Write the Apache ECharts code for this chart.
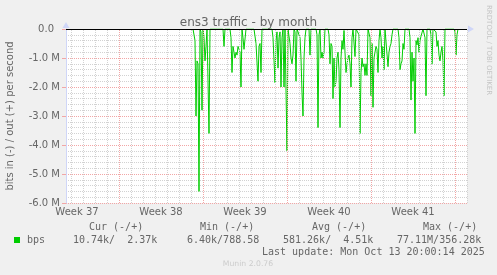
<!DOCTYPE html>
<html><head><meta charset="utf-8">
<script src="https://cdn.jsdelivr.net/npm/echarts@6/dist/echarts.min.js"></script>
<style>html,body{margin:0;padding:0;background:#f0f0f0}#c{width:497px;height:275px}</style>
</head><body><div id="c"></div>
<script>
// hours since Mon Sep 8 2025 00:00 (start of Week 37)
const hours = [316,320,322,324,326,328,330,332,334,336,338,340,342,344,346,348,350,
376,378,380,390,392,394,396,398,400,402,404,406,408,410,412,414,416,418,420,422,
438,442,444,446,448,450,452,454,474,476,480,482,484,486,488,490,492,494,496,498,500,502,504,506,508,
510,512,514,516,518,520,522,524,528,530,532,534,536,538,540,542,548,550,552,562,564,566,568,570,572,574,576,578,580,
586,588,590,592,594,596,598,600,602,604,606,608,610,612,614,616,618,620,622,624,626,628,630,632,634,636,638,640,642,
646,648,650,652,654,656,658,660,662,664,666,668,670,672,674,676,678,680,682,684,686,688,690,692,694,696,698,700,
704,706,708,710,712,714,716,726,728,730,732,734,736,738,740,748,750,752,754,756,758,760,762,764,766,768,770,772,774,776,
780,782,784,790,792,794,796,800,802,804,806,808,810,812,814,816,818,820,838,840,842,844,846];
// bits in per second (negative, in millions)
const inValues = [0,-0.4,-3.0,-1.1,-1.2,-5.6,0,-0.1,-2.8,0,-0.3,-1.1,-0.6,0,0,-3.6,0,
0,-0.6,0,0,-0.3,-1.5,-0.6,-0.8,-1.0,-0.8,-0.9,-0.6,-0.7,-0.8,-2.0,0,-0.3,-0.7,-0.7,0,
0,-0.5,-0.5,-1.8,-0.6,-0.5,-1.5,0,0,-0.3,-1.85,-0.4,-0.1,-1.35,-0.3,-0.1,-2.0,-0.3,0,-2.0,0,0,-4.2,0,0,
-0.5,-1.0,-1.2,-0.9,0,-0.1,-1.8,0,0,-0.3,-1.0,-2.2,-3.0,-1.0,-0.3,0,0,-0.9,0,0,-0.2,-3.4,-0.2,0,-1.0,-0.8,-1.0,-0.8,0,
0,-0.2,-1.2,-0.5,-0.6,-2.4,-1.0,-2.0,-1.8,-1.0,-0.8,-1.4,-3.4,-1.0,-0.4,-0.7,-0.05,-0.8,-1.5,-1.2,-1.0,-0.9,-1.2,-2.0,-0.3,0,0,-0.95,0,
0,-0.2,-3.6,-1.5,-1.0,-1.3,-1.2,-1.6,-1.2,-1.6,0,0,-0.3,-2.3,-0.5,-2.7,-1.0,-0.8,-0.6,-0.7,-1.5,-0.4,0,-0.3,-1.0,-0.6,-1.4,0,
0,-1.3,-0.8,-0.6,-0.5,-0.2,0,0,-0.3,-1.4,-1.2,-1.1,-0.5,-0.7,0,0,-0.3,-2.45,-0.8,-1.8,-1.0,-3.6,-0.4,-0.55,-0.3,-0.8,-0.4,-0.25,-0.2,0,
-0.3,-2.3,0,0,-0.2,-1.2,0,0,-0.1,-0.6,-0.4,-0.9,-1.1,-0.8,-0.6,-1.1,-2.3,0,0,-0.1,-0.9,-0.2,0];
const weekLabels = ['Week 37','Week 38','Week 39','Week 40','Week 41'];
const weekLabelHours = [84, 252, 420, 588, 756];   // mid-week
const dayLineHours = [];  for (let h = 72; h <= 864; h += 24) dayLineHours.push(h);
const weekLineHours = [168, 336, 504, 672, 840];
const yTickValues = [-6,-5,-4,-3,-2,-1,0];
const yTickLabels = ['-6.0 M','-5.0 M','-4.0 M','-3.0 M','-2.0 M','-1.0 M','0.0'];
const legendRow = {name:'bps', cur:'10.74k/  2.37k', min:'6.40k/788.58', avg:'581.26k/  4.51k', max:'77.11M/356.28k'};
const lastUpdate = 'Last update: Mon Oct 13 20:00:14 2025';

const FONT = 'DejaVu Sans';
const MONO = 'DejaVu Sans Mono';
const TXT = '#666666';
const seriesData = hours.map((h, i) => [h, inValues[i]]);

const chart = echarts.init(document.getElementById('c'), null, {renderer: 'canvas'});
function monoText(x, y, text) {
  return {type: 'text', x: x, y: y, style: {text: text, fill: TXT, font: '10px "' + MONO + '"', textAlign: 'left', textVerticalAlign: 'middle'}};
}
const gridLineStyle = (c) => ({color: c, width: 1, type: [1, 1]});
chart.setOption({
  backgroundColor: '#f0f0f0',
  animation: false,
  title: {text: 'ens3 traffic - by month', left: 'center', top: 12,
    textStyle: {fontFamily: FONT, fontSize: 12, fontWeight: 'normal', color: TXT}},
  grid: {left: 66, right: 30, top: 29, bottom: 72, show: true, backgroundColor: '#ffffff', borderWidth: 0},
  xAxis: [{
    type: 'value', min: 62, max: 864, interval: 2, position: 'bottom', z: 2,
    axisLine: {show: true, lineStyle: {color: '#CFD6F8', width: 1}, symbol: ['none', 'triangle'], symbolSize: [7, 6], symbolOffset: [0, 4]},
    axisTick: {show: false},
    axisLabel: {show: true, margin: 4, fontFamily: FONT, fontSize: 10, color: TXT,
      formatter: v => { const k = weekLabelHours.indexOf(Math.round(v)); return k >= 0 ? weekLabels[k] : ''; }},
    splitLine: {show: false}
  }],
  yAxis: [
    {type: 'value', min: -6, max: 0, interval: 1, position: 'left', z: 1,
      axisLine: {show: true, lineStyle: {color: '#CFD6F8', width: 1}, symbol: ['none', 'triangle'], symbolSize: [7, 6], symbolOffset: [0, 4]},
      axisTick: {show: true, length: 4, lineStyle: {color: '#f2a6a6'}},
      axisLabel: {show: true, margin: 6, fontFamily: FONT, fontSize: 10, color: TXT,
        formatter: v => { const i = yTickValues.indexOf(Math.round(v)); if (i < 0) return ''; return v === 0 ? '{z|' + yTickLabels[i] + '}' : yTickLabels[i]; },
        rich: {z: {fontFamily: FONT, fontSize: 10, color: TXT, padding: [0, 6, 0, 0]}}},
      splitLine: {show: true, lineStyle: gridLineStyle('#f2a6a6')}},
    {type: 'value', min: -6, max: 0, interval: 0.2, z: 0,
      axisLine: {show: false}, axisTick: {show: false}, axisLabel: {show: false},
      splitLine: {show: true, lineStyle: gridLineStyle('#d2d2d2')}}
  ],
  series: [
    {type: 'line', name: 'daygrid', data: [], z: 1, silent: true,
      markLine: {silent: true, symbol: ['none', 'none'], label: {show: false}, animation: false,
        lineStyle: gridLineStyle('#d2d2d2'), data: dayLineHours.map(h => ({xAxis: h}))}},
    {type: 'line', name: 'weekgrid', data: [], z: 1, silent: true,
      markLine: {silent: true, symbol: ['none', 'none'], label: {show: false}, animation: false,
        lineStyle: gridLineStyle('#f2a6a6'), data: weekLineHours.map(h => ({xAxis: h}))}},
    {type: 'line', name: 'bps', data: seriesData,
      showSymbol: false, symbol: 'none', z: 3,
      lineStyle: {color: '#00cc00', width: 1},
      markLine: {silent: true, symbol: ['none', 'none'], label: {show: false}, animation: false,
        lineStyle: {color: '#000000', width: 1, type: 'solid'}, data: [{yAxis: 0}]}}
  ],
  graphic: [
    {type: 'text', x: 10, y: 116, rotation: Math.PI / 2,
      style: {text: 'bits in (-) / out (+) per second', fill: TXT, font: '10px "' + FONT + '"', textAlign: 'center', textVerticalAlign: 'middle'}},
    {type: 'text', x: 489, y: 5, rotation: -Math.PI / 2,
      style: {text: 'RRDTOOL / TOBI OETIKER', fill: '#c4c4c4', font: '7px "' + FONT + '"', textAlign: 'left', textVerticalAlign: 'middle'}},
    {type: 'rect', shape: {x: 14, y: 237, width: 6, height: 6}, style: {fill: '#00cc00'}},
    monoText(89, 227.5, 'Cur (-/+)'),
    monoText(200, 227.5, 'Min (-/+)'),
    monoText(312, 227.5, 'Avg (-/+)'),
    monoText(423, 227.5, 'Max (-/+)'),
    monoText(27, 240, legendRow.name),
    monoText(73, 240, legendRow.cur),
    monoText(187, 240, legendRow.min),
    monoText(283, 240, legendRow.avg),
    monoText(397, 240, legendRow.max),
    monoText(262, 252, lastUpdate),
    {type: 'text', x: 248, y: 264,
      style: {text: 'Munin 2.0.76', fill: '#cccccc', font: '7.7px "' + FONT + '"', textAlign: 'center', textVerticalAlign: 'middle'}}
  ]
});
</script></body></html>
